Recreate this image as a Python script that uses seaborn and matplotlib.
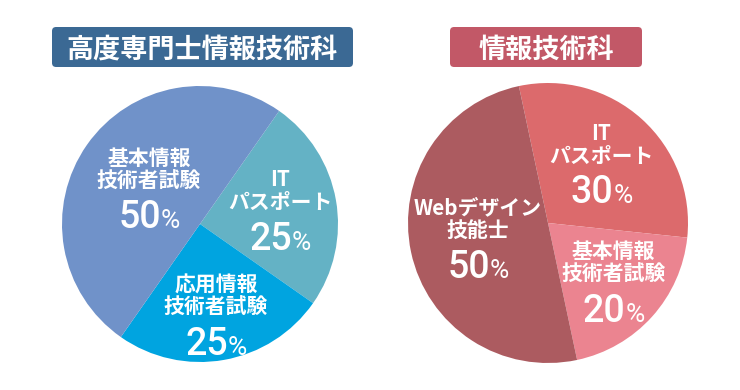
import matplotlib
matplotlib.use('Agg')
import matplotlib.pyplot as plt
import numpy as np
import seaborn as sns
from matplotlib.patches import FancyBboxPatch
from matplotlib.offsetbox import TextArea, HPacker, AnnotationBbox

# left chart: 高度専門士情報技術科
left_title = '高度専門士情報技術科'
left_names = ['IT\nパスポート', '応用情報\n技術者試験', '基本情報\n技術者試験']
left_shares = [25, 25, 50]
left_colors = ['#64b2c5', '#00a4e0', '#7092c9']

# right chart: 情報技術科
right_title = '情報技術科'
right_names = ['IT\nパスポート', '基本情報\n技術者試験', 'Webデザイン\n技能士']
right_shares = [30, 20, 50]
right_colors = ['#dc6a6c', '#eb8490', '#ac5b60']

sns.set_theme(style='white')
plt.rcParams['font.family'] = ['Noto Sans CJK JP', 'DejaVu Sans']

W, H = 740, 390
fig = plt.figure(figsize=(W / 100, H / 100), dpi=100)
fig.patch.set_facecolor('white')

NUM_FONT = ['Roboto', 'DejaVu Sans']


def title_box(x0, x1, text, color):
    # pixel box -> figure fraction
    y0, y1 = 27, 67
    box = FancyBboxPatch((x0 / W, 1 - y1 / H), (x1 - x0) / W, (y1 - y0) / H,
                         boxstyle='round,pad=0,rounding_size=0.0055',
                         mutation_aspect=W / H, transform=fig.transFigure,
                         facecolor=color, edgecolor='none')
    fig.add_artist(box)
    fig.text((x0 + x1) / 2 / W, 1 - (y0 + y1) / 2 / H, text, ha='center',
             va='center_baseline', fontsize=19.5, fontweight='bold', color='white')


def draw_pie(rect, names, shares, colors, start, label_r):
    ax = fig.add_axes(rect)
    wedges, _ = ax.pie(shares, colors=colors, startangle=start, counterclock=False,
                       wedgeprops=dict(linewidth=0))
    ax.set_xlim(-1, 1)
    ax.set_ylim(-1, 1)
    ax.set_aspect('equal')
    ax.axis('off')
    for w, name, share, r in zip(wedges, names, shares, label_r):
        mid = np.deg2rad((w.theta1 + w.theta2) / 2)
        xy = (r * np.cos(mid), r * np.sin(mid))
        ax.annotate(name, xy, xytext=(0, 13.5), textcoords='offset points',
                    ha='center', va='center', fontsize=15, color='white',
                    linespacing=1.12, fontweight='bold')
        num = HPacker(children=[
            TextArea(str(share), textprops=dict(fontsize=27, color='white',
                                                family=NUM_FONT, fontweight='medium')),
            TextArea('%', textprops=dict(fontsize=19, color='white',
                                         family=NUM_FONT, fontweight='normal')),
        ], align='baseline', pad=0, sep=0)
        ab = AnnotationBbox(num, xy, xybox=(0, -21), boxcoords='offset points',
                            frameon=False, box_alignment=(0.5, 0.5))
        ax.add_artist(ab)
    return ax


title_box(52, 353, left_title, '#3b6994')
title_box(450, 642, right_title, '#c25867')

draw_pie([62 / W, 1 - 362 / H, 276 / W, 276 / H], left_names, left_shares,
         left_colors, 55, [0.59, 0.67, 0.45])
draw_pie([408 / W, 1 - 363 / H, 280 / W, 280 / H], right_names, right_shares,
         right_colors, 102, [0.57, 0.63, 0.51])

fig.savefig('out.png', dpi=100, facecolor='white')
